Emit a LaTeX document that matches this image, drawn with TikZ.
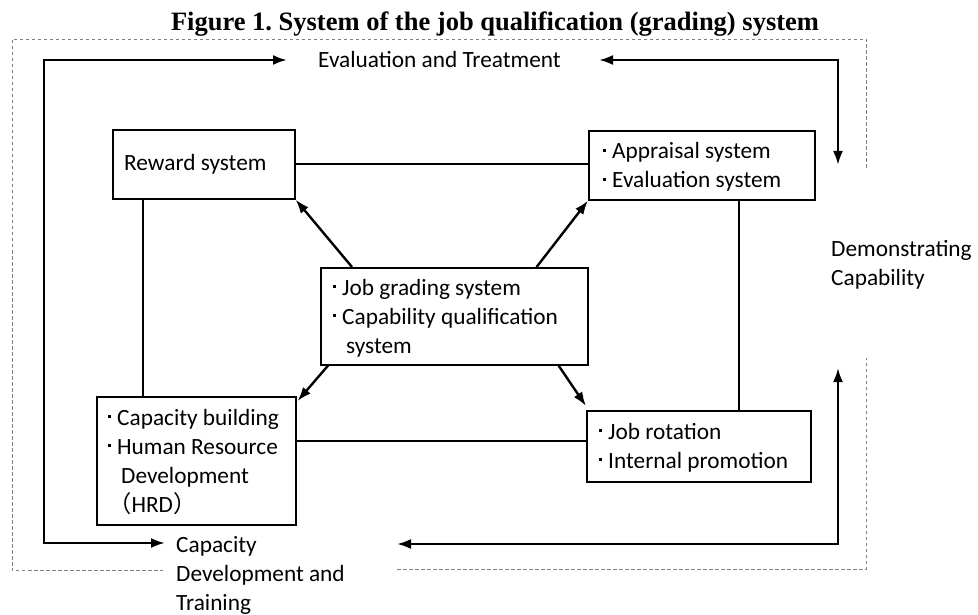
\documentclass[tikz,border=0pt]{standalone}
\usepackage{fontspec}
\setmainfont{Carlito}
\newfontfamily\titlefont{Liberation Serif}
\newfontfamily\cjk{Noto Sans CJK JP}
\usetikzlibrary{arrows.meta,calc}
% small square list dot
\newcommand\bul{\makebox[16pt][c]{\rule[0.3em]{3pt}{3pt}}}
\frenchspacing
\begin{document}
\begin{tikzpicture}[x=1pt,y=-1pt,
  box/.style={draw, line width=1.6pt, inner sep=0pt, anchor=north west},
  txt/.style={anchor=base west, inner sep=0pt, align=left,
    font=\fontsize{23.3}{29}\selectfont},
  link/.style={line width=2pt},
  arr/.style={line width=2.4pt, -{Latex[length=14pt,width=10pt]}},
  dbl/.style={line width=2.4pt, {Latex[length=14pt,width=10pt]}-{Latex[length=14pt,width=10pt]}},
  frame/.style={line width=0.8pt, gray, dash pattern=on 3.5pt off 2.5pt}]
\useasboundingbox (0,0) rectangle (978,615);

% title
\node[anchor=base, inner sep=0pt, font=\titlefont\bfseries\fontsize{26.5}{30}\selectfont]
  (title) at (495,31) {Figure 1. System of the job qualification (grading) system};

% dashed frame, open at the right and at the bottom
\draw[frame] (866,168) -- (866,39) -- (12,39) -- (12,570) -- (163,570);
\draw[frame] (397,569) -- (866,569) -- (866,358);

% boxes
\node[box, minimum width=182pt, minimum height=69pt] (rew) at (112,129) {};
\node[box, minimum width=226pt, minimum height=69pt] (app) at (588,130) {};
\node[box, minimum width=267pt, minimum height=97pt] (cen) at (320,267) {};
\node[box, minimum width=199pt, minimum height=128pt] (cap) at (96,396) {};
\node[box, minimum width=224pt, minimum height=71pt] (job) at (586,410) {};

% box texts (anchored at the baseline of their last line)
\node[txt] (rewt) at (124,171) {Reward system};
\node[txt] (appt) at (596,188) {\bul Appraisal system\\\bul Evaluation system};
\node[txt] (cent) at (326,353) {\bul Job grading system\\\bul Capability qualification\\\hspace*{20pt}system};
\node[txt] (capt) at (101,512) {\bul Capacity building\\\bul Human Resource\\\hspace*{20pt}Development\\\hspace*{7pt}{\cjk （}HRD{\cjk ）}};
\node[txt] (jobt) at (592,468) {\bul Job rotation\\\bul Internal promotion};

% outer labels
\node[txt] (eval) at (318,68) {Evaluation and Treatment};
\node[txt] (demo) at (831,285) {Demonstrating\\Capability};
\node[txt] (cdt) at (176,610) {Capacity\\Development and\\Training};

% plain links between boxes
\draw[link] (rew.east) -- (rew.east -| app.west);
\draw[link] ($(rew.south west)+(31,0)$) -- ($(cap.north west)+(47,0)$);
\draw[link] ($(app.south west)+(151,0)$) -- ($(job.north west)+(153,0)$);
\draw[link] ($(cap.north east)+(0,45)$) -- ($(job.north west)+(0,31)$);

% arrows from the central box
\draw[arr] ($(cen.north west)+(32,0)$) -- (rew.south east);
\draw[arr] ($(cen.north east)+(-52,0)$) -- (app.south west);
\draw[arr] ($(cen.south west)+(8,0)$) -- ($(cap.north east)+(1,5)$);
\draw[arr] ($(cen.south east)+(-30,0)$) -- ($(job.north west)+(0,-4)$);

% outer feedback loops
\coordinate (tl1) at (287,60);
\coordinate (tl2) at (165,543);
\coordinate (tr1) at (599,60);
\coordinate (tr2) at (838,165);
\coordinate (br1) at (397,544);
\coordinate (br2) at (838,368);
\draw[dbl] (tl1) -- (44,60) -- (44,543) -- (tl2);
\draw[dbl] (tr1) -- (838,60) -- (tr2);
\draw[dbl] (br1) -- (838,544) -- (br2);
\end{tikzpicture}
\end{document}
